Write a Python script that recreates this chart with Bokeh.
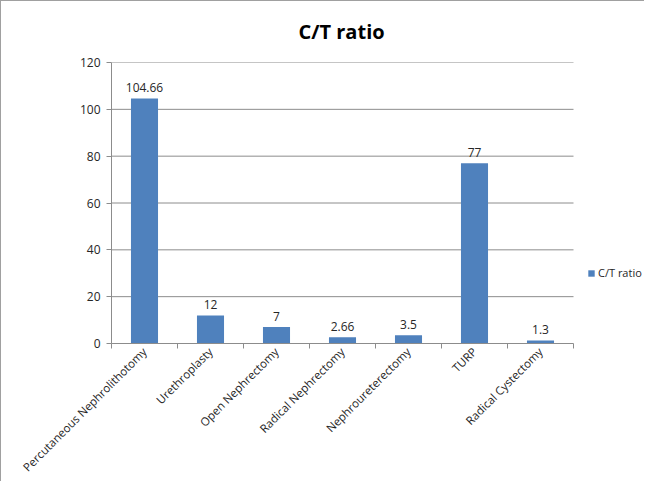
import numpy as np
from bokeh.plotting import figure
from bokeh.models import ColumnDataSource, FixedTicker, Range1d, Legend, LegendItem
from bokeh.embed import file_html
from bokeh.resources import INLINE
from bokeh.core.properties import value

categories = ["Percutaneous Nephrolithotomy", "Urethroplasty", "Open Nephrectomy",
              "Radical Nephrectomy", "Nephroureterectomy", "TURP", "Radical Cystectomy"]
ratios = [104.66, 12, 7, 2.66, 3.5, 77, 1.3]
y_ticks = [0, 20, 40, 60, 80, 100, 120]
series_name = "C/T ratio"

FONT = "Open Sans"
GRID = "#8c8c8c"
n = len(categories)
xs = [i + 0.5 for i in range(n)]
src = ColumnDataSource(dict(x=xs, top=ratios, label=[f"{v:g}" for v in ratios]))
grid_src = ColumnDataSource(dict(y=y_ticks[1:], x0=[0] * (len(y_ticks) - 1), x1=[n] * (len(y_ticks) - 1)))

# frame spans 110..644 px; the category axis itself spans 110..572 px
x_end = n * (644 - 110) / (572 - 110)

p = figure(width=644, height=481, output_backend="svg", toolbar_location=None,
           x_range=Range1d(0, x_end), y_range=Range1d(y_ticks[0], y_ticks[-1]),
           min_border_left=110, min_border_right=0, min_border_top=61, min_border_bottom=135,
           title="C/T ratio")
p.styles = {"border-left": "1px solid #a0a0a0", "border-top": "1px solid #a0a0a0"}
p.title.align = "left"
p.title.offset = 187
p.title.vertical_align = "top"
p.title.text_font = FONT
p.title.text_font_size = "20px"
p.title.text_font_style = "bold"
p.title.text_color = "#000000"
p.title.standoff = 31
p.outline_line_color = None

p.xgrid.grid_line_color = None
p.ygrid.grid_line_color = None
p.segment(x0="x0", x1="x1", y0="y", y1="y", source=grid_src, line_color=GRID, line_width=1)

r = p.vbar(x="x", top="top", width=0.41, source=src, fill_color="#4F81BD", line_color=None)
p.text(x="x", y="top", text="label", source=src, text_align="center", text_baseline="bottom",
       y_offset=-6, text_font=value(FONT), text_font_size="12px", text_color="#262626")

p.yaxis.ticker = FixedTicker(ticks=y_ticks)
p.yaxis.axis_line_color = GRID
p.yaxis.major_tick_line_color = GRID
p.yaxis.major_tick_out = 5
p.yaxis.major_tick_in = 0
p.yaxis.minor_tick_line_color = None
p.yaxis.major_label_text_font = FONT
p.yaxis.major_label_text_font_size = "12px"
p.yaxis.major_label_text_color = "#262626"
p.yaxis.major_label_standoff = 6

p.xaxis.bounds = (0, n)
p.xaxis.ticker = FixedTicker(ticks=xs, minor_ticks=list(range(n + 1)))
p.xaxis.major_label_overrides = {x: c for x, c in zip(xs, categories)}
p.xaxis.axis_line_color = GRID
p.xaxis.major_tick_line_color = None
p.xaxis.major_tick_out = 0
p.xaxis.major_tick_in = 0
p.xaxis.minor_tick_line_color = GRID
p.xaxis.minor_tick_out = 5
p.xaxis.minor_tick_in = 0
p.xaxis.major_label_orientation = np.pi / 4
p.xaxis.major_label_text_font = FONT
p.xaxis.major_label_text_font_size = "11.5px"
p.xaxis.major_label_text_color = "#262626"
p.xaxis.major_label_standoff = 1

legend = Legend(items=[LegendItem(label=series_name, renderers=[r])], location=(476, 63),
                glyph_width=8, glyph_height=8, label_text_font=FONT, label_text_font_size="11px",
                label_text_color="#262626", border_line_color=None, background_fill_alpha=0,
                padding=0, spacing=0, label_standoff=3, margin=0)
p.add_layout(legend, "center")

open("out.html", "w").write(file_html(p, INLINE))
